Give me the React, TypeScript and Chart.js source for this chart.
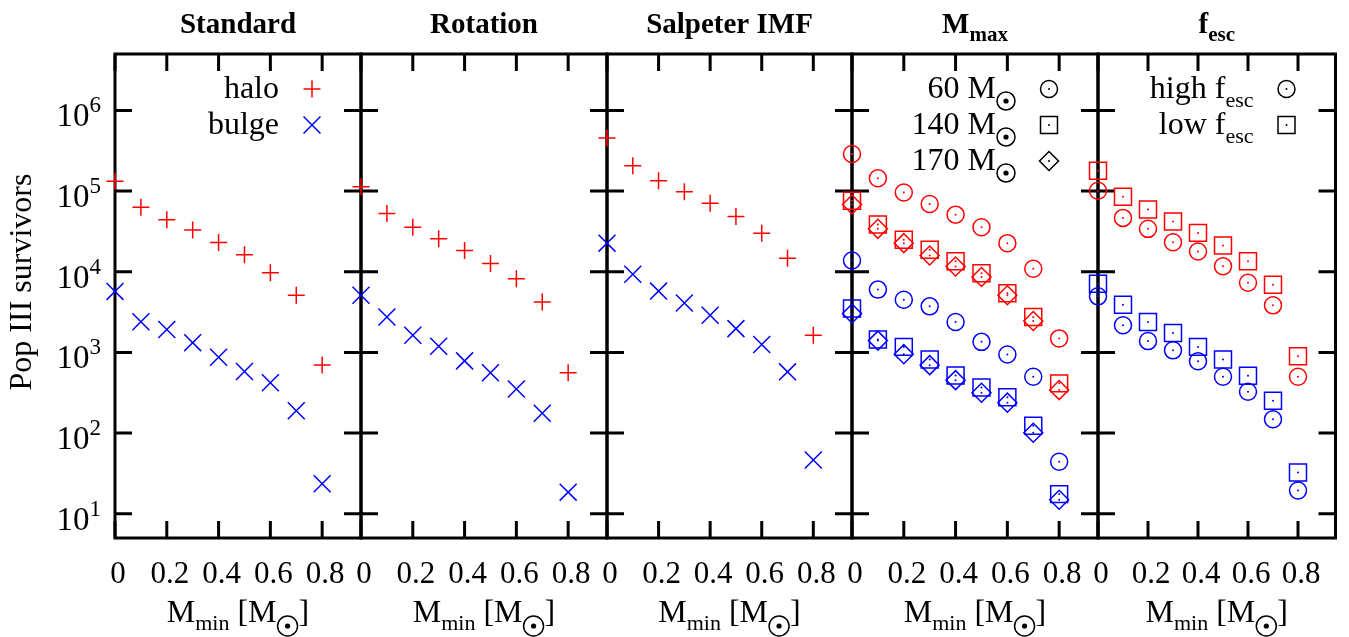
import React, { useEffect, useRef } from 'react';
import { Chart, registerables } from 'chart.js';
import { drawPoint } from 'chart.js/helpers';

Chart.register(...registerables);

// ---------------- data ----------------
const mMin = [0, 0.1, 0.2, 0.3, 0.4, 0.5, 0.6, 0.7, 0.8];

const standardHalo = [132000, 63000, 44000, 33000, 23000, 16200, 9700, 5100, 700];
const standardBulge = [5700, 2400, 1920, 1320, 870, 580, 420, 189, 23.5];

const rotationHalo = [113000, 52600, 35600, 25600, 18300, 12600, 8200, 4200, 558];
const rotationBulge = [5100, 2750, 1630, 1190, 785, 558, 351, 176, 18.5];

const salpeterHalo = [453000, 206000, 134000, 98000, 70500, 48300, 30000, 14700, 1630];
const salpeterBulge = [22600, 9300, 5750, 4100, 2880, 1970, 1250, 574, 46.4];

const mmax60Halo = [288000, 144000, 96000, 69000, 51000, 35600, 22600, 10900, 1490];
const mmax140Halo = [76000, 38400, 24900, 18700, 13500, 9600, 5400, 2750, 413];
const mmax170Halo = [68000, 34000, 22600, 15900, 11600, 8600, 5100, 2450, 341];
const mmax60Bulge = [13800, 6000, 4500, 3720, 2380, 1350, 942, 498, 44];
const mmax140Bulge = [3490, 1440, 1170, 817, 518, 368, 277, 123, 17.5];
const mmax170Bulge = [3030, 1400, 950, 695, 453, 316, 238, 101, 14.9];

const fescHighHalo = [101000, 46500, 34000, 23200, 17800, 11700, 7300, 3830, 498];
const fescLowHalo = [179000, 85000, 59000, 42000, 30300, 21100, 13500, 6900, 898];
const fescHighBulge = [4950, 2170, 1380, 1060, 778, 498, 325, 148, 19.4];
const fescLowBulge = [7100, 3900, 2380, 1740, 1170, 817, 512, 252, 32.4];

const yTickValues = [10, 100, 1000, 10000, 100000, 1000000];
const yTickExponents = ['1', '2', '3', '4', '5', '6'];
const xTickValues = [0, 0.2, 0.4, 0.6, 0.8];
const xTickLabels = ['0', '0.2', '0.4', '0.6', '0.8'];

const xMin = 0;
const xMax = 0.95;
const yMin = 5;
const yMax = 5e6;

const yAxisTitle = 'Pop III survivors';

// ---------------- layout / style ----------------
const W = 1349;
const H = 637;
const PANEL_EDGES = [115, 361, 607, 852, 1098, 1343];
const PLOT_TOP = 54;
const PLOT_BOTTOM = 538;
const TICK = 17;
const SERIF = '"Liberation Serif", "Times New Roman", serif';
const RED = '#ff0000';
const BLUE = '#0000ff';

type Seg = { t?: string; size?: number; bold?: boolean; dy?: number; sun?: number };

type Marker = { pointStyle: string; radius: number; dot: boolean };
const MARK: Record<string, Marker> = {
  plus: { pointStyle: 'cross', radius: 8.5, dot: false },
  cross: { pointStyle: 'crossRot', radius: 12, dot: false },
  circle: { pointStyle: 'circle', radius: 8.5, dot: true },
  square: { pointStyle: 'rect', radius: 12, dot: true },
  diamond: { pointStyle: 'rectRot', radius: 9.5, dot: true },
};

type SeriesDef = { label: string; values: number[]; color: string; mark: string };
type LegendDef = { segs: Seg[]; mark: string; color: string };
type PanelDef = { title: Seg[]; series: SeriesDef[]; legend: LegendDef[] };

const sunSub = (r: number, dy: number): Seg => ({ sun: r, dy });

const panels: PanelDef[] = [
  {
    title: [{ t: 'Standard', size: 29, bold: true }],
    series: [
      { label: 'halo', values: standardHalo, color: RED, mark: 'plus' },
      { label: 'bulge', values: standardBulge, color: BLUE, mark: 'cross' },
    ],
    legend: [
      { segs: [{ t: 'halo', size: 32 }], mark: 'plus', color: RED },
      { segs: [{ t: 'bulge', size: 32 }], mark: 'cross', color: BLUE },
    ],
  },
  {
    title: [{ t: 'Rotation', size: 29, bold: true }],
    series: [
      { label: 'halo', values: rotationHalo, color: RED, mark: 'plus' },
      { label: 'bulge', values: rotationBulge, color: BLUE, mark: 'cross' },
    ],
    legend: [],
  },
  {
    title: [{ t: 'Salpeter IMF', size: 29, bold: true }],
    series: [
      { label: 'halo', values: salpeterHalo, color: RED, mark: 'plus' },
      { label: 'bulge', values: salpeterBulge, color: BLUE, mark: 'cross' },
    ],
    legend: [],
  },
  {
    title: [{ t: 'M', size: 29, bold: true }, { t: 'max', size: 21, bold: true, dy: 8 }],
    series: [
      { label: '60 halo', values: mmax60Halo, color: RED, mark: 'circle' },
      { label: '140 halo', values: mmax140Halo, color: RED, mark: 'square' },
      { label: '170 halo', values: mmax170Halo, color: RED, mark: 'diamond' },
      { label: '60 bulge', values: mmax60Bulge, color: BLUE, mark: 'circle' },
      { label: '140 bulge', values: mmax140Bulge, color: BLUE, mark: 'square' },
      { label: '170 bulge', values: mmax170Bulge, color: BLUE, mark: 'diamond' },
    ],
    legend: [
      { segs: [{ t: '60 M', size: 32 }, sunSub(9, 3)], mark: 'circle', color: '#000' },
      { segs: [{ t: '140 M', size: 32 }, sunSub(9, 3)], mark: 'square', color: '#000' },
      { segs: [{ t: '170 M', size: 32 }, sunSub(9, 3)], mark: 'diamond', color: '#000' },
    ],
  },
  {
    title: [{ t: 'f', size: 29, bold: true }, { t: 'esc', size: 21, bold: true, dy: 8 }],
    series: [
      { label: 'high halo', values: fescHighHalo, color: RED, mark: 'circle' },
      { label: 'low halo', values: fescLowHalo, color: RED, mark: 'square' },
      { label: 'high bulge', values: fescHighBulge, color: BLUE, mark: 'circle' },
      { label: 'low bulge', values: fescLowBulge, color: BLUE, mark: 'square' },
    ],
    legend: [
      { segs: [{ t: 'high f', size: 32 }, { t: 'esc', size: 22, dy: 9 }], mark: 'circle', color: '#000' },
      { segs: [{ t: 'low f', size: 32 }, { t: 'esc', size: 22, dy: 9 }], mark: 'square', color: '#000' },
    ],
  },
];

const xAxisTitle: Seg[] = [
  { t: 'M', size: 32 },
  { t: 'min', size: 22, dy: 8 },
  { t: ' [M', size: 32 },
  sunSub(10, 4),
  { t: ']', size: 32 },
];

// ---------------- drawing helpers ----------------
const fontOf = (s: Seg) => `${s.bold ? 'bold ' : ''}${s.size}px ${SERIF}`;

function drawSun(ctx: CanvasRenderingContext2D, cx: number, cy: number, r: number) {
  ctx.save();
  ctx.strokeStyle = '#000';
  ctx.fillStyle = '#000';
  ctx.lineWidth = 1.5;
  ctx.beginPath();
  ctx.arc(cx, cy, r, 0, Math.PI * 2);
  ctx.stroke();
  ctx.beginPath();
  ctx.arc(cx, cy, 2.6, 0, Math.PI * 2);
  ctx.fill();
  ctx.restore();
}

function segWidth(ctx: CanvasRenderingContext2D, s: Seg) {
  if (s.sun) return s.sun * 2 + 2;
  ctx.font = fontOf(s);
  return ctx.measureText(s.t || '').width;
}

function drawRich(
  ctx: CanvasRenderingContext2D,
  segs: Seg[],
  x: number,
  baseline: number,
  align: 'left' | 'center' | 'right'
) {
  const widths = segs.map((s) => segWidth(ctx, s));
  const total = widths.reduce((a, b) => a + b, 0);
  let cx = align === 'right' ? x - total : align === 'center' ? x - total / 2 : x;
  ctx.textAlign = 'left';
  ctx.textBaseline = 'alphabetic';
  ctx.fillStyle = '#000';
  segs.forEach((s, i) => {
    if (s.sun) {
      drawSun(ctx, cx + s.sun + 1, baseline + (s.dy || 0), s.sun);
    } else {
      ctx.font = fontOf(s);
      ctx.fillText(s.t || '', cx, baseline + (s.dy || 0));
    }
    cx += widths[i];
  });
}

function makePlugin(p: number) {
  const panel = panels[p];
  return {
    id: 'panelDecor' + p,
    beforeDatasetsDraw(chart: any) {
      const { ctx, chartArea: a, scales } = chart;
      const xs = scales.x;
      const ys = scales.y;
      ctx.save();
      ctx.strokeStyle = '#000';
      ctx.lineWidth = 3;
      ctx.lineCap = 'butt';
      ctx.beginPath();
      yTickValues.forEach((v) => {
        const py = ys.getPixelForValue(v);
        ctx.moveTo(a.left, py);
        ctx.lineTo(a.left + TICK, py);
        ctx.moveTo(a.right, py);
        ctx.lineTo(a.right - TICK, py);
      });
      xTickValues.forEach((v) => {
        const px = xs.getPixelForValue(v);
        ctx.moveTo(px, a.bottom);
        ctx.lineTo(px, a.bottom - TICK);
        ctx.moveTo(px, a.top);
        ctx.lineTo(px, a.top + TICK);
      });
      ctx.stroke();
      ctx.strokeRect(a.left, a.top, a.right - a.left, a.bottom - a.top);
      ctx.restore();
    },
    afterDraw(chart: any) {
      const { ctx, chartArea: a, scales } = chart;
      const xs = scales.x;
      const ys = scales.y;
      const cxPanel = (a.left + a.right) / 2;
      ctx.save();
      ctx.fillStyle = '#000';

      // title
      drawRich(ctx, panel.title, cxPanel, 33, 'center');

      // x tick labels
      ctx.font = `31px ${SERIF}`;
      ctx.textAlign = 'center';
      ctx.textBaseline = 'alphabetic';
      xTickValues.forEach((v, i) => {
        ctx.fillText(xTickLabels[i], xs.getPixelForValue(v) + 3, 583);
      });

      // x axis title
      drawRich(ctx, xAxisTitle, cxPanel, 622, 'center');

      // y axis (first panel only)
      if (p === 0) {
        yTickValues.forEach((v, i) => {
          const py = ys.getPixelForValue(v);
          const expSeg: Seg = { t: yTickExponents[i], size: 23 };
          const ew = segWidth(ctx, expSeg);
          const right = 101;
          ctx.textAlign = 'left';
          ctx.font = fontOf(expSeg);
          ctx.fillText(expSeg.t!, right - ew, py + 2);
          ctx.font = `33px ${SERIF}`;
          ctx.textAlign = 'right';
          ctx.fillText('10', right - ew, py + 16);
        });
        ctx.save();
        ctx.translate(23, 282);
        ctx.rotate(-Math.PI / 2);
        ctx.font = `32px ${SERIF}`;
        ctx.textAlign = 'center';
        ctx.textBaseline = 'middle';
        ctx.fillText(yAxisTitle, 0, 0);
        ctx.restore();
      }

      // legend
      const markerX = a.right - 49;
      panel.legend.forEach((entry, i) => {
        const my = a.top + 35 + i * 36;
        const m = MARK[entry.mark];
        ctx.save();
        ctx.strokeStyle = entry.color;
        ctx.fillStyle = 'rgba(0,0,0,0)';
        ctx.lineWidth = 1.5;
        drawPoint(ctx, { pointStyle: m.pointStyle as any, radius: m.radius, rotation: 0, borderWidth: 1.5 }, markerX, my);
        if (m.dot) {
          ctx.fillStyle = entry.color;
          ctx.beginPath();
          ctx.arc(markerX, my, 1, 0, Math.PI * 2);
          ctx.fill();
        }
        ctx.restore();
        drawRich(ctx, entry.segs, markerX - 33, my + 9, 'right');
      });
      ctx.restore();
    },
  };
}

function buildDatasets(panel: PanelDef) {
  const ds: any[] = [];
  panel.series.forEach((s) => {
    const m = MARK[s.mark];
    const data = mMin.map((x, i) => ({ x, y: s.values[i] }));
    ds.push({
      label: s.label,
      data,
      showLine: false,
      pointStyle: m.pointStyle,
      pointRadius: m.radius,
      pointHoverRadius: m.radius,
      pointBorderColor: s.color,
      pointBackgroundColor: 'rgba(0,0,0,0)',
      pointBorderWidth: 1.5,
      borderColor: s.color,
      backgroundColor: 'rgba(0,0,0,0)',
      clip: false,
    });
    if (m.dot) {
      ds.push({
        label: s.label + ' centre',
        data,
        showLine: false,
        pointStyle: 'circle',
        pointRadius: 1,
        pointHoverRadius: 1,
        pointBorderWidth: 0,
        pointBackgroundColor: s.color,
        borderColor: s.color,
        backgroundColor: s.color,
        clip: false,
      });
    }
  });
  return ds;
}

function Panel({ index }: { index: number }) {
  const ref = useRef<HTMLCanvasElement | null>(null);
  useEffect(() => {
    if (!ref.current) return;
    const left = PANEL_EDGES[index];
    const right = PANEL_EDGES[index + 1];
    const chart = new Chart(ref.current, {
      type: 'scatter',
      data: { datasets: buildDatasets(panels[index]) },
      options: {
        animation: false,
        responsive: false,
        maintainAspectRatio: false,
        events: [],
        layout: {
          padding: { left, right: W - right, top: PLOT_TOP, bottom: H - PLOT_BOTTOM },
        },
        scales: {
          x: { type: 'linear', min: xMin, max: xMax, display: false },
          y: { type: 'logarithmic', min: yMin, max: yMax, display: false },
        },
        plugins: { legend: { display: false }, tooltip: { enabled: false } },
      },
      plugins: [makePlugin(index)],
    } as any);
    return () => chart.destroy();
  }, [index]);
  return (
    <canvas
      ref={ref}
      width={W}
      height={H}
      style={{ position: 'absolute', left: 0, top: 0, width: W, height: H }}
    />
  );
}

export default function App() {
  return (
    <div style={{ position: 'absolute', left: 0, top: 0, width: W, height: H, background: '#fff' }}>
      {panels.map((_, i) => (
        <Panel key={i} index={i} />
      ))}
    </div>
  );
}
